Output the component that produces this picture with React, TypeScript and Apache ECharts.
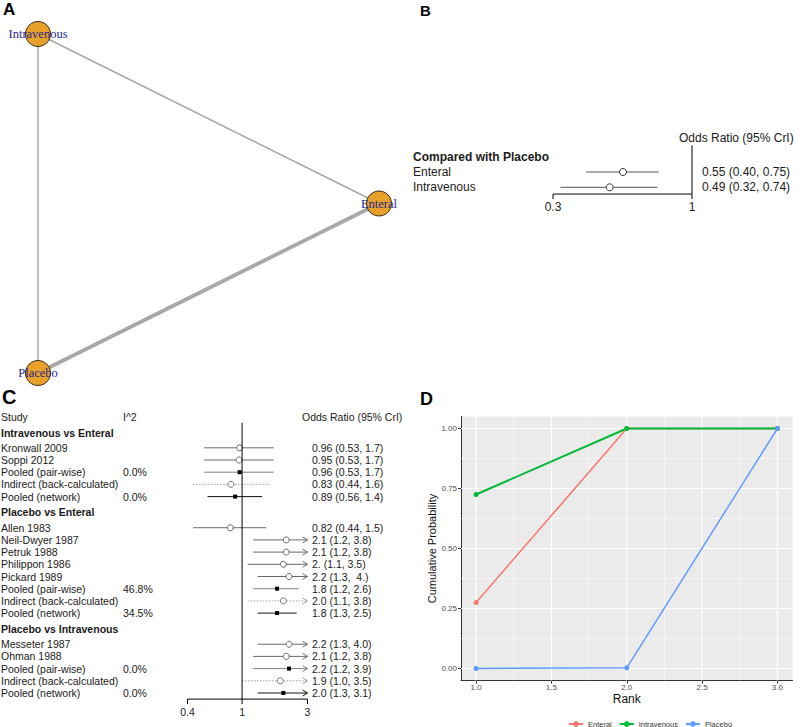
import React, { useEffect, useRef } from "react";
import * as echarts from "echarts";

// ---------- Panel A: network ----------
const nodeNames = ["Intravenous", "Enteral", "Placebo"];
const nodeX = [0, 1, 0];
const nodeY = [1, 0.5, 0];
const edgeFrom = ["Intravenous", "Intravenous", "Placebo"];
const edgeTo = ["Enteral", "Placebo", "Enteral"];
const edgeStudies = [2, 2, 5];

// ---------- Panel B: compared with placebo ----------
const bTitle = "Compared with Placebo";
const bNames = ["Enteral", "Intravenous"];
const bOR = [0.55, 0.49];
const bLow = [0.4, 0.32];
const bHigh = [0.75, 0.74];
const bLabels = ["0.55 (0.40, 0.75)", "0.49 (0.32, 0.74)"];
const bTicks = [0.3, 1];

// ---------- Panel C: node-splitting forest ----------
const cGroupTitles = ["Intravenous vs Enteral", "Placebo vs Enteral", "Placebo vs Intravenous"];
const cStudy = [
  "Kronwall 2009", "Soppi 2012", "Pooled (pair-wise)", "Indirect (back-calculated)", "Pooled (network)",
  "Allen 1983", "Neil-Dwyer 1987", "Petruk 1988", "Philippon 1986", "Pickard 1989", "Pooled (pair-wise)", "Indirect (back-calculated)", "Pooled (network)",
  "Messeter 1987", "Ohman 1988", "Pooled (pair-wise)", "Indirect (back-calculated)", "Pooled (network)",
];
const cGroup = [0, 0, 0, 0, 0, 1, 1, 1, 1, 1, 1, 1, 1, 2, 2, 2, 2, 2];
const cKind = [
  "study", "study", "pairwise", "indirect", "network",
  "study", "study", "study", "study", "study", "pairwise", "indirect", "network",
  "study", "study", "pairwise", "indirect", "network",
];
const cI2 = ["", "", "0.0%", "", "0.0%", "", "", "", "", "", "46.8%", "", "34.5%", "", "", "0.0%", "", "0.0%"];
const cOR = [0.96, 0.95, 0.96, 0.83, 0.89, 0.82, 2.1, 2.1, 2.0, 2.2, 1.8, 2.0, 1.8, 2.2, 2.1, 2.2, 1.9, 2.0];
const cLow = [0.53, 0.53, 0.53, 0.44, 0.56, 0.44, 1.2, 1.2, 1.1, 1.3, 1.2, 1.1, 1.3, 1.3, 1.2, 1.2, 1.0, 1.3];
const cHigh = [1.7, 1.7, 1.7, 1.6, 1.4, 1.5, 3.8, 3.8, 3.5, 4.0, 2.6, 3.8, 2.5, 4.0, 3.8, 3.9, 3.5, 3.1];
const cLabels = [
  "0.96 (0.53, 1.7)", "0.95 (0.53, 1.7)", "0.96 (0.53, 1.7)", "0.83 (0.44, 1.6)", "0.89 (0.56, 1.4)",
  "0.82 (0.44, 1.5)", "2.1 (1.2, 3.8)", "2.1 (1.2, 3.8)", "2. (1.1, 3.5)", "2.2 (1.3,  4.)", "1.8 (1.2, 2.6)", "2.0 (1.1, 3.8)", "1.8 (1.3, 2.5)",
  "2.2 (1.3, 4.0)", "2.1 (1.2, 3.8)", "2.2 (1.2, 3.9)", "1.9 (1.0, 3.5)", "2.0 (1.3, 3.1)",
];
const cTicks = [0.4, 1, 3];

// ---------- Panel D: cumulative ranking ----------
const ranks = [1, 2, 3];
const enteralCum = [0.275, 1.0, 1.0];
const intravenousCum = [0.725, 1.0, 1.0];
const placeboCum = [0.0, 0.003, 1.0];
const rankTicks = [1.0, 1.5, 2.0, 2.5, 3.0];
const probTicks = [0, 0.25, 0.5, 0.75, 1.0];

const SANS = '"Liberation Sans", Arial, Helvetica, sans-serif';
const SERIF = '"Liberation Serif", "Times New Roman", serif';

type Row = { pos: number; kind: string; name: string; i2?: string; label?: string; or?: number; lo?: number; hi?: number };

function buildCRows() {
  const rows: Row[] = [];
  let pos = 0;
  rows.push({ pos, kind: "header", name: "Study", i2: "I^2", label: "Odds Ratio (95% CrI)" });
  let g = -1;
  cStudy.forEach((name, i) => {
    if (cGroup[i] !== g) {
      g = cGroup[i];
      pos += 1.3;
      rows.push({ pos, kind: "title", name: cGroupTitles[g] });
      pos += 1.25;
    } else pos += 1;
    rows.push({ pos, kind: cKind[i], name, i2: cI2[i], label: cLabels[i], or: cOR[i], lo: cLow[i], hi: cHigh[i] });
  });
  return { rows, axisPos: pos + 0.5 };
}

function buildBRows() {
  const rows: Row[] = [];
  rows.push({ pos: -1.25, kind: "header", name: "", label: "Odds Ratio (95% CrI)" });
  rows.push({ pos: 0, kind: "title", name: bTitle });
  bNames.forEach((n, i) => rows.push({ pos: i + 1, kind: "bstudy", name: n, label: bLabels[i], or: bOR[i], lo: bLow[i], hi: bHigh[i] }));
  return { rows, axisPos: 2.44 };
}

const kindStyle: Record<string, any> = {
  study: { line: "#6a6a6a", lw: 1, dash: null, marker: "circle", pt: "#666" },
  bstudy: { line: "#555", lw: 1, dash: null, marker: "circle", pt: "#333" },
  pairwise: { line: "#808080", lw: 1, dash: null, marker: "square", pt: "#000" },
  indirect: { line: "#a0a0a0", lw: 1, dash: [1.5, 1.5], marker: "circle", pt: "#777" },
  network: { line: "#111", lw: 1, dash: null, marker: "square", pt: "#000" },
};

function forestRender(rows: Row[], cfg: any) {
  return (params: any, api: any) => {
    const r = rows[params.dataIndex];
    const y = api.coord([1, r.pos])[1];
    const children: any[] = [];
    const txt = (text: string, x: number, bold = false, align = "left") => ({
      type: "text",
      x,
      y,
      style: { text, fill: "#1a1a1a", fontSize: cfg.fontSize, fontFamily: SANS, fontWeight: bold ? "bold" : "normal", align, verticalAlign: "middle" },
    });
    if (r.kind === "header") {
      if (r.name) children.push(txt(r.name, cfg.nameX));
      if (r.i2) children.push(txt(r.i2, cfg.i2X));
      children.push(txt(r.label!, cfg.headerX));
    } else if (r.kind === "title") {
      children.push(txt(r.name, cfg.nameX, true));
    } else {
      children.push(txt(r.name, cfg.nameX));
      if (r.i2) children.push(txt(r.i2, cfg.i2X));
      children.push(txt(r.label!, cfg.labelX));
      const st = kindStyle[r.kind];
      const lo = Math.max(r.lo!, cfg.xmin);
      const hi = Math.min(r.hi!, cfg.xmax);
      const x1 = api.coord([lo, r.pos])[0];
      const x2 = api.coord([hi, r.pos])[0];
      const xp = api.coord([r.or!, r.pos])[0];
      children.push({ type: "line", shape: { x1, y1: y, x2, y2: y }, style: { stroke: st.line, lineWidth: st.lw, lineDash: st.dash } });
      if (r.hi! > cfg.xmax) {
        children.push({ type: "polyline", shape: { points: [[x2 - 5, y - 3], [x2, y], [x2 - 5, y + 3]] }, style: { stroke: st.line, fill: null, lineWidth: 1 } });
      }
      if (st.marker === "circle") {
        children.push({ type: "circle", shape: { cx: xp, cy: y, r: cfg.r }, style: { stroke: st.pt, fill: "#fff", lineWidth: 1 } });
      } else {
        children.push({ type: "rect", shape: { x: xp - 2, y: y - 2, width: 4, height: 4 }, style: { fill: st.pt } });
      }
    }
    return { type: "group", children };
  };
}

function axisRender(ticks: number[], axisPos: number, refTop: number, fontSize: number) {
  return (params: any, api: any) => {
    const v = api.value(0);
    const p = api.coord([v, axisPos]);
    const children: any[] = [
      { type: "line", shape: { x1: p[0], y1: p[1], x2: p[0], y2: p[1] + 5 }, style: { stroke: "#000", lineWidth: 1 } },
      { type: "text", x: p[0], y: p[1] + 7, style: { text: String(v), fill: "#1a1a1a", fontSize, fontFamily: SANS, align: "center", verticalAlign: "top" } },
    ];
    if (params.dataIndex === 0) {
      const a = api.coord([ticks[0], axisPos]);
      const b = api.coord([ticks[ticks.length - 1], axisPos]);
      children.push({ type: "line", shape: { x1: a[0], y1: a[1], x2: b[0], y2: b[1] }, style: { stroke: "#000", lineWidth: 1 } });
      const t = api.coord([1, refTop]);
      children.push({ type: "line", shape: { x1: t[0], y1: t[1], x2: t[0], y2: a[1] }, style: { stroke: "#000", lineWidth: 1 } });
    }
    return { type: "group", children };
  };
}

function gridLineRender(vals: number[], major: number, dir: "x" | "y") {
  return (params: any, api: any) => {
    const v = vals[params.dataIndex];
    const w = params.dataIndex < major ? 1.1 : 0.5;
    const a = dir === "x" ? api.coord([v, -0.05]) : api.coord([0.9, v]);
    const b = dir === "x" ? api.coord([v, 1.05]) : api.coord([3.1, v]);
    return { type: "line", shape: { x1: a[0], y1: a[1], x2: b[0], y2: b[1] }, style: { stroke: "#ffffff", lineWidth: w } };
  };
}

function mids(t: number[]) {
  const out: number[] = [];
  for (let i = 0; i < t.length - 1; i++) out.push((t[i] + t[i + 1]) / 2);
  return out;
}

export default function App() {
  const ref = useRef<HTMLDivElement>(null);
  useEffect(() => {
    if (!ref.current) return;
    const chart = echarts.init(ref.current, null, { renderer: "svg" });
    const C = buildCRows();
    const B = buildBRows();
    const xGridVals = [...rankTicks, ...mids(rankTicks)];
    const yGridVals = [...probTicks, ...mids(probTicks)];

    const hidden = { show: false };
    const option: any = {
      animation: false,
      textStyle: { fontFamily: SANS },
      grid: [
        { left: 38, top: 34, width: 341, height: 339 },
        { left: 553, top: 135.3, width: 139, height: 58.9 },
        { left: 187.5, top: 404.5, width: 120, height: 294.6 },
        { left: 461, top: 416.5, width: 331.5, height: 264, show: true, backgroundColor: "#EBEBEB", borderWidth: 0 },
      ],
      xAxis: [
        { gridIndex: 0, type: "value", min: 0, max: 1, ...hidden },
        { gridIndex: 1, type: "log", logBase: 10, min: 0.3, max: 1, ...hidden },
        { gridIndex: 2, type: "log", logBase: 10, min: 0.4, max: 3, ...hidden },
        {
          gridIndex: 3, type: "value", min: 0.9, max: 3.1,
          name: "Rank", nameLocation: "middle", nameGap: 12,
          nameTextStyle: { fontSize: 12, color: "#111" },
          axisLine: { show: true, onZero: false, lineStyle: { color: "#333", width: 1 } },
          axisTick: { show: true, customValues: rankTicks, length: 3, lineStyle: { color: "#333" } },
          axisLabel: { customValues: rankTicks, formatter: (v: number) => v.toFixed(1), fontSize: 8, color: "#4D4D4D", margin: 3 },
          splitLine: { show: false },
        },
      ],
      yAxis: [
        { gridIndex: 0, type: "value", min: 0, max: 1, ...hidden },
        { gridIndex: 1, type: "value", min: -1.4, max: 2.45, inverse: true, ...hidden },
        { gridIndex: 2, type: "value", min: -1, max: C.axisPos, inverse: true, ...hidden },
        {
          gridIndex: 3, type: "value", min: -0.05, max: 1.05,
          name: "Cumulative Probability", nameLocation: "middle", nameGap: 22,
          nameTextStyle: { fontSize: 11, color: "#111" },
          axisLine: { show: true, onZero: false, lineStyle: { color: "#333", width: 1 } },
          axisTick: { show: true, customValues: probTicks, length: 3, lineStyle: { color: "#333" } },
          axisLabel: { customValues: probTicks, formatter: (v: number) => v.toFixed(2), fontSize: 8, color: "#4D4D4D", margin: 4 },
          splitLine: { show: false },
        },
      ],
      legend: {
        data: ["Enteral", "Intravenous", "Placebo"],
        left: 563, top: 715, itemWidth: 14, itemHeight: 7, itemGap: 7,
        textStyle: { fontSize: 7.5, color: "#333" },
      },
      graphic: [
        { type: "text", x: 3, y: 9, style: { text: "A", fontSize: 17, fontWeight: "bold", fill: "#000", fontFamily: SANS, verticalAlign: "middle" } },
        { type: "text", x: 420, y: 10, style: { text: "B", fontSize: 15, fontWeight: "bold", fill: "#000", fontFamily: SANS, verticalAlign: "middle" } },
        { type: "text", x: 2, y: 397, style: { text: "C", fontSize: 20, fontWeight: "bold", fill: "#000", fontFamily: SANS, verticalAlign: "middle" } },
        { type: "text", x: 420, y: 399, style: { text: "D", fontSize: 18, fontWeight: "bold", fill: "#000", fontFamily: SANS, verticalAlign: "middle" } },
      ],
      series: [
        {
          type: "graph", coordinateSystem: "cartesian2d", xAxisIndex: 0, yAxisIndex: 0, layout: "none",
          symbolSize: 25,
          data: nodeNames.map((n, i) => ({ name: n, value: [nodeX[i], nodeY[i]] })),
          links: edgeFrom.map((s, i) => ({ source: s, target: edgeTo[i], lineStyle: { width: edgeStudies[i] * 0.75 } })),
          itemStyle: { color: "#E7A12A", borderColor: "#3a2a10", borderWidth: 1 },
          lineStyle: { color: "#A8A8A8", opacity: 1, curveness: 0 },
          label: { show: true, position: "inside", color: "#26268c", fontFamily: SERIF, fontSize: 12.5 },
          emphasis: { disabled: true },
          silent: true,
        },
        {
          type: "custom", name: "forestB", coordinateSystem: "cartesian2d", xAxisIndex: 1, yAxisIndex: 1, clip: false, silent: true,
          data: B.rows.map((r) => [r.or ?? 1, r.pos]),
          renderItem: forestRender(B.rows, { xmin: 0.3, xmax: 1, fontSize: 12, nameX: 413, i2X: 0, labelX: 702, headerX: 679, r: 3.5 }),
        },
        {
          type: "custom", name: "axisB", coordinateSystem: "cartesian2d", xAxisIndex: 1, yAxisIndex: 1, clip: false, silent: true,
          data: bTicks.map((v) => [v, B.axisPos]),
          renderItem: axisRender(bTicks, B.axisPos, -0.75, 12),
        },
        {
          type: "custom", name: "forestC", coordinateSystem: "cartesian2d", xAxisIndex: 2, yAxisIndex: 2, clip: false, silent: true,
          data: C.rows.map((r) => [r.or ?? 1, r.pos]),
          renderItem: forestRender(C.rows, { xmin: 0.4, xmax: 3, fontSize: 10.5, nameX: 1, i2X: 123, labelX: 312, headerX: 302, r: 3 }),
        },
        {
          type: "custom", name: "axisC", coordinateSystem: "cartesian2d", xAxisIndex: 2, yAxisIndex: 2, clip: false, silent: true,
          data: cTicks.map((v) => [v, C.axisPos]),
          renderItem: axisRender(cTicks, C.axisPos, 0.5, 10.5),
        },
        {
          type: "custom", name: "gridX", coordinateSystem: "cartesian2d", xAxisIndex: 3, yAxisIndex: 3, silent: true, z: 1,
          data: xGridVals.map((v) => [v, 0]),
          renderItem: gridLineRender(xGridVals, rankTicks.length, "x"),
        },
        {
          type: "custom", name: "gridY", coordinateSystem: "cartesian2d", xAxisIndex: 3, yAxisIndex: 3, silent: true, z: 1,
          data: yGridVals.map((v) => [1, v]),
          renderItem: gridLineRender(yGridVals, probTicks.length, "y"),
        },
        {
          type: "line", name: "Enteral", xAxisIndex: 3, yAxisIndex: 3, color: "#F8766D",
          data: ranks.map((r, i) => [r, enteralCum[i]]), symbol: "circle", symbolSize: 5, lineStyle: { width: 1.5 }, z: 3,
        },
        {
          type: "line", name: "Intravenous", xAxisIndex: 3, yAxisIndex: 3, color: "#00BA38",
          data: ranks.map((r, i) => [r, intravenousCum[i]]), symbol: "circle", symbolSize: 5, lineStyle: { width: 2 }, z: 3,
        },
        {
          type: "line", name: "Placebo", xAxisIndex: 3, yAxisIndex: 3, color: "#619CFF",
          data: ranks.map((r, i) => [r, placeboCum[i]]), symbol: "circle", symbolSize: 5, lineStyle: { width: 1.5 }, z: 3,
        },
      ],
    };
    chart.setOption(option);
    return () => chart.dispose();
  }, []);
  return <div ref={ref} style={{ position: "fixed", left: 0, top: 0, width: 800, height: 727, background: "#fff" }} />;
}
